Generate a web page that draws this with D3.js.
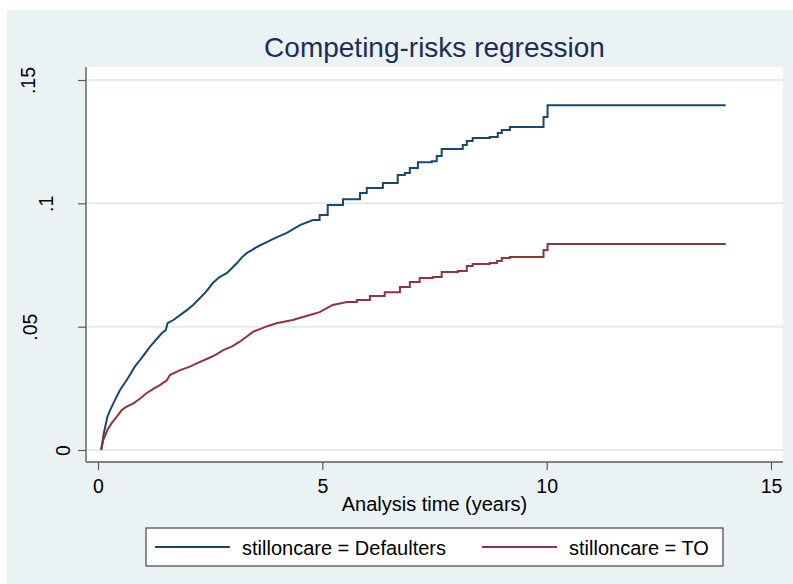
<!DOCTYPE html>
<html>
<head>
<meta charset="utf-8">
<script src="https://cdn.jsdelivr.net/npm/d3@7/dist/d3.min.js"></script>
<style>
  body { margin: 0; background: #ffffff; }
  svg { display: block; }
  text { font-family: "Liberation Sans", Arial, Helvetica, sans-serif; }
</style>
</head>
<body>
<svg id="chart" width="793" height="584"></svg>
<script>
// Cumulative incidence, stilloncare = Defaulters
const defaultersTime = [0.07, 0.13, 0.21, 0.27, 0.38, 0.49, 0.64, 0.71, 0.82, 0.94, 1.05, 1.16, 1.29, 1.42, 1.51, 1.55,
  1.68, 1.83, 1.98, 2.12, 2.23, 2.40, 2.56, 2.70, 2.87, 3.10, 3.20, 3.32, 3.43, 3.54, 3.76, 3.99, 4.21, 4.50, 4.79,
  4.94, 5.12, 5.46, 5.84, 5.99, 6.35, 6.68, 6.84, 6.95, 7.13, 7.44, 7.55, 7.66, 8.02, 8.13, 8.22, 8.35, 8.73, 8.91,
  9.00, 9.18, 9.93, 10.02, 13.99];
const defaultersCif = [0.0000, 0.0068, 0.0135, 0.0162, 0.0203, 0.0243, 0.0284, 0.0304, 0.0338, 0.0365, 0.0392, 0.0419,
  0.0446, 0.0473, 0.0486, 0.0514, 0.0527, 0.0547, 0.0567, 0.0588, 0.0608, 0.0640, 0.0677, 0.0700, 0.0717, 0.0758,
  0.0780, 0.0799, 0.0810, 0.0823, 0.0843, 0.0863, 0.0880, 0.0912, 0.0932, 0.0953, 0.0993, 0.1017, 0.1042, 0.1062,
  0.1082, 0.1115, 0.1123, 0.1143, 0.1167, 0.1171, 0.1192, 0.1220, 0.1220, 0.1236, 0.1253, 0.1265, 0.1269, 0.1285,
  0.1297, 0.1309, 0.1350, 0.1398, 0.1398];

// Cumulative incidence, stilloncare = TO
const toTime = [0.07, 0.12, 0.21, 0.30, 0.42, 0.53, 0.64, 0.79, 0.94, 1.08, 1.25, 1.38, 1.54, 1.60, 1.83, 2.05, 2.20,
  2.46, 2.61, 2.79, 2.98, 3.16, 3.31, 3.46, 3.65, 3.79, 3.98, 4.34, 4.72, 4.94, 5.23, 5.55, 5.77, 6.06, 6.39, 6.73,
  6.95, 7.17, 7.46, 7.66, 8.02, 8.22, 8.35, 8.73, 8.89, 9.00, 9.18, 9.93, 10.02, 13.99];
const toCif = [0.0000, 0.0041, 0.0081, 0.0108, 0.0135, 0.0162, 0.0176, 0.0189, 0.0209, 0.0230, 0.0250, 0.0263, 0.0284,
  0.0304, 0.0324, 0.0338, 0.0351, 0.0372, 0.0385, 0.0405, 0.0419, 0.0439, 0.0459, 0.0480, 0.0493, 0.0503, 0.0514,
  0.0527, 0.0547, 0.0559, 0.0588, 0.0600, 0.0608, 0.0624, 0.0640, 0.0661, 0.0681, 0.0697, 0.0701, 0.0722, 0.0726,
  0.0746, 0.0754, 0.0758, 0.0766, 0.0778, 0.0782, 0.0811, 0.0835, 0.0835];

const xTicks = [0, 5, 10, 15];
const xTickLabels = ["0", "5", "10", "15"];
const yTicks = [0, 0.05, 0.1, 0.15];
const yTickLabels = ["0", ".05", ".1", ".15"];
const seriesNames = ["stilloncare = Defaulters", "stilloncare = TO"];
const seriesColors = ["#1a476f", "#90353b"];

const titleText = "Competing-risks regression";
const xTitleText = "Analysis time (years)";

// ---- layout ----
const W = 793, H = 584;
const plot = { left: 86, right: 783, top: 67, bottom: 462 };
const bgColor = "#eaf2f3";
const gridColor = "#e4ecef";
const axisColor = "#5a5a5a";
// distance of each rotated y label's baseline from the axis line
const yLabelGap = [16, 49, 33, 51];
// before these times the many tiny steps blend into a smooth rise
const smoothUntil = [4.9, 5.6];

const svg = d3.select("#chart");

// graph region with thin white margin at top/left
svg.append("rect").attr("x", 0).attr("y", 0).attr("width", W).attr("height", H).attr("fill", "#ffffff");
svg.append("rect").attr("x", 7).attr("y", 10).attr("width", W - 7).attr("height", H - 10).attr("fill", bgColor);

// plot region
svg.append("rect")
  .attr("x", plot.left).attr("y", plot.top)
  .attr("width", plot.right - plot.left).attr("height", plot.bottom - plot.top)
  .attr("fill", "#ffffff");

const x = d3.scaleLinear().domain([0, 15]).range([98, 771]);
const y = d3.scaleLinear().domain([0, 0.15]).range([450, 80]);

// horizontal grid lines
svg.append("g").selectAll("line").data(yTicks).join("line")
  .attr("x1", plot.left).attr("x2", plot.right)
  .attr("y1", d => y(d)).attr("y2", d => y(d))
  .attr("stroke", gridColor).attr("stroke-width", 2);

// curves: smooth early rise, then explicit stair steps
function curvePoints(times, values, tSmooth) {
  const pts = [];
  times.forEach((t, i) => {
    if (i > 0 && t > tSmooth) pts.push([t, values[i - 1]]);
    pts.push([t, values[i]]);
  });
  return pts;
}
const line = d3.line().x(d => x(d[0])).y(d => y(d[1])).curve(d3.curveLinear);
const series = [
  curvePoints(defaultersTime, defaultersCif, smoothUntil[0]),
  curvePoints(toTime, toCif, smoothUntil[1])
];
svg.append("g").selectAll("path").data(series).join("path")
  .attr("d", d => line(d))
  .attr("fill", "none")
  .attr("stroke", (d, i) => seriesColors[i])
  .attr("stroke-width", 2)
  .attr("stroke-linejoin", "miter");

// y axis
const yAxis = d3.axisLeft(y).tickValues(yTicks)
  .tickFormat((d, i) => yTickLabels[i]).tickSize(8).tickSizeOuter(0);
const gy = svg.append("g").attr("transform", `translate(${plot.left},0)`).call(yAxis);
gy.select(".domain").remove();
gy.append("line").attr("x1", 0).attr("x2", 0).attr("y1", plot.top).attr("y2", plot.bottom)
  .attr("stroke", axisColor).attr("stroke-width", 1.4);
gy.selectAll(".tick line").attr("stroke", axisColor).attr("stroke-width", 1.2);
gy.selectAll(".tick text")
  .attr("fill", "#000").attr("font-size", 19.5)
  .attr("text-anchor", "middle").attr("dy", null)
  .attr("x", null)
  .attr("transform", (d, i) => `translate(${-yLabelGap[i]},0) rotate(-90)`)
  .attr("y", 0);

// x axis
const xAxis = d3.axisBottom(x).tickValues(xTicks)
  .tickFormat((d, i) => xTickLabels[i]).tickSize(8).tickSizeOuter(0);
const gx = svg.append("g").attr("transform", `translate(0,${plot.bottom})`).call(xAxis);
gx.select(".domain").remove();
gx.append("line").attr("x1", plot.left).attr("x2", plot.right).attr("y1", 0).attr("y2", 0)
  .attr("stroke", axisColor).attr("stroke-width", 1.4);
gx.selectAll(".tick line").attr("stroke", axisColor).attr("stroke-width", 1.2);
gx.selectAll(".tick text")
  .attr("fill", "#000").attr("font-size", 19.5)
  .attr("dy", null).attr("y", 31);

// titles
const cx = (plot.left + plot.right) / 2;
svg.append("text").attr("x", cx).attr("y", 57).attr("text-anchor", "middle")
  .attr("font-size", 28).attr("fill", "#1e2d55").text(titleText);
svg.append("text").attr("x", cx).attr("y", 511).attr("text-anchor", "middle")
  .attr("font-size", 20).attr("fill", "#000").text(xTitleText);

// legend
const legend = svg.append("g");
legend.append("rect").attr("x", 146).attr("y", 528).attr("width", 577).attr("height", 38)
  .attr("fill", "#ffffff").attr("stroke", "#444").attr("stroke-width", 1.2);
const itemX = [155, 482];
const items = legend.selectAll("g.item").data(seriesNames).join("g")
  .attr("class", "item").attr("transform", (d, i) => `translate(${itemX[i]},547)`);
items.append("line").attr("x1", 0).attr("x2", 75).attr("y1", 0).attr("y2", 0)
  .attr("stroke", (d, i) => seriesColors[i]).attr("stroke-width", 2);
items.append("text").attr("x", 87).attr("y", 8).attr("font-size", 20).attr("fill", "#000").text(d => d);
</script>
</body>
</html>
